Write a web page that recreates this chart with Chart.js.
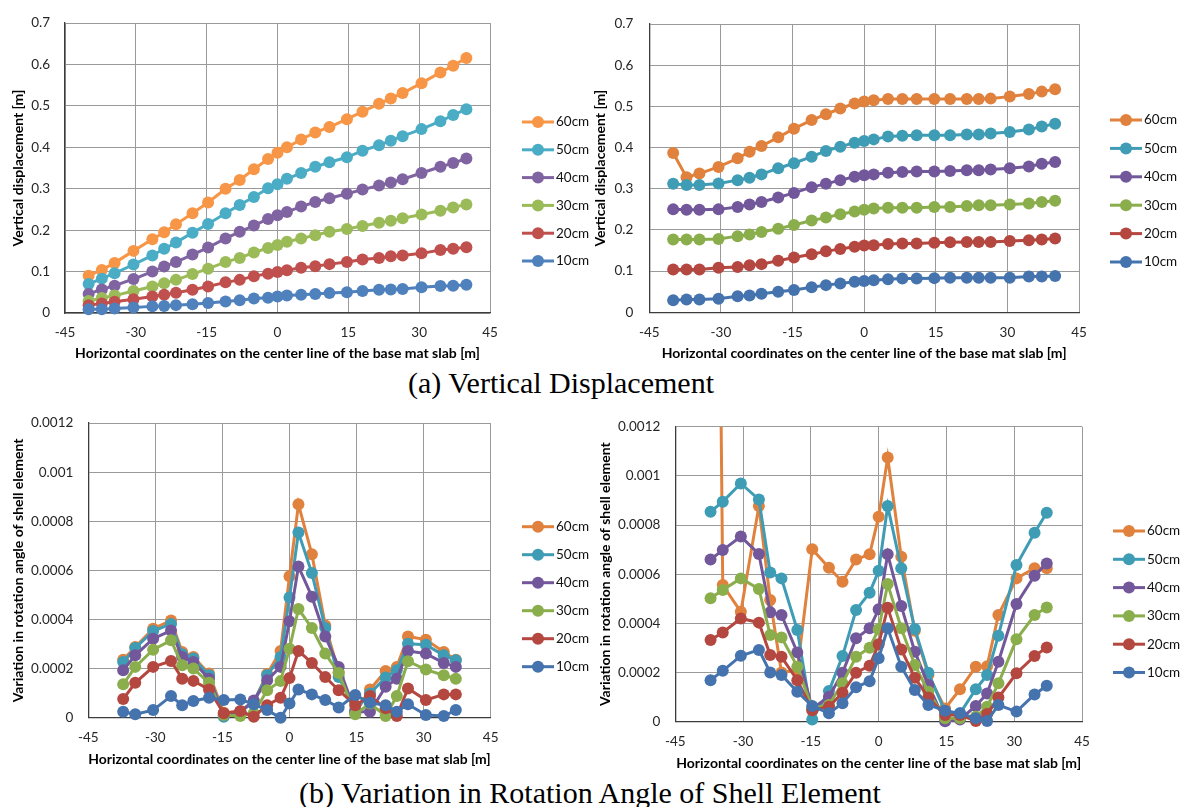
<!DOCTYPE html>
<html>
<head>
<meta charset="utf-8">
<script src="https://cdn.jsdelivr.net/npm/chart.js@4.4.1/dist/chart.umd.min.js"></script>
<style>
  body { margin:0; background:#fff; width:1188px; height:807px; position:relative; overflow:hidden; }
  canvas { position:absolute; }
  .cap { position:absolute; font-family:"Liberation Serif","Times New Roman",serif; font-size:30px; line-height:32px;
         color:#000; white-space:nowrap; transform:translateX(-50%); }
</style>
</head>
<body>
<canvas id="dispA" width="600" height="362" style="left:0;top:0"></canvas>
<canvas id="dispB" width="603" height="362" style="left:585px;top:0"></canvas>
<canvas id="rotA" width="600" height="368" style="left:0;top:400px"></canvas>
<canvas id="rotB" width="603" height="372" style="left:585px;top:400px"></canvas>
<div class="cap" style="left:561px;top:367px">(a) Vertical Displacement</div>
<div class="cap" style="left:590px;top:777px">(b) Variation in Rotation Angle of Shell Element</div>

<script>
/* slab thickness series, legend order (top -> bottom) */
const LABELS = ["60cm", "50cm", "40cm", "30cm", "20cm", "10cm"];

// x coordinates of the nodes [m]
const xDisp = [-40,-37.2,-34.5,-30.5,-26.5,-24,-21.5,-18,-14.7,-11,-8,-5,-2,0,2,5,8,11,14.7,18,21.5,24,26.5,30.5,34.5,37.2,40];
const xRot  = [-37.2,-34.5,-30.5,-26.5,-24,-21.5,-18,-14.7,-11,-8,-5,-2,0,2,5,8,11,14.7,18,21.5,24,26.5,30.5,34.5,37.2];

const xTicks = [-45, -30, -15, 0, 15, 30, 45];
const dispTicks = [0, 0.1, 0.2, 0.3, 0.4, 0.5, 0.6, 0.7];
const rotTicks = [0, 0.0002, 0.0004, 0.0006, 0.0008, 0.001, 0.0012];

// (a) vertical displacement [m], left chart
const dispA60 = [0.090,0.104,0.121,0.150,0.178,0.195,0.214,0.241,0.267,0.300,0.321,0.347,0.372,0.387,0.400,0.419,0.436,0.449,0.468,0.486,0.505,0.518,0.531,0.555,0.581,0.597,0.616];
const dispA50 = [0.070,0.083,0.096,0.117,0.139,0.155,0.170,0.194,0.215,0.241,0.261,0.280,0.301,0.311,0.324,0.338,0.353,0.364,0.376,0.392,0.405,0.416,0.427,0.444,0.463,0.478,0.492];
const dispA40 = [0.046,0.057,0.066,0.082,0.100,0.112,0.123,0.141,0.158,0.180,0.196,0.211,0.227,0.236,0.244,0.257,0.268,0.277,0.288,0.298,0.308,0.315,0.323,0.338,0.353,0.362,0.373];
const dispA30 = [0.029,0.036,0.042,0.053,0.064,0.072,0.080,0.094,0.107,0.123,0.133,0.146,0.157,0.164,0.172,0.180,0.188,0.196,0.203,0.210,0.218,0.223,0.229,0.238,0.247,0.255,0.262];
const dispA20 = [0.019,0.023,0.027,0.033,0.040,0.044,0.049,0.056,0.064,0.074,0.080,0.089,0.095,0.099,0.103,0.109,0.113,0.118,0.123,0.129,0.133,0.137,0.139,0.144,0.152,0.155,0.159];
const dispA10 = [0.009,0.009,0.011,0.013,0.016,0.017,0.019,0.021,0.024,0.028,0.031,0.035,0.037,0.040,0.042,0.044,0.046,0.048,0.050,0.053,0.056,0.057,0.058,0.062,0.065,0.066,0.068];

// (a) vertical displacement [m], right chart
const dispB60 = [0.387,0.328,0.337,0.353,0.374,0.390,0.404,0.425,0.446,0.467,0.481,0.495,0.507,0.512,0.515,0.518,0.518,0.518,0.518,0.518,0.518,0.518,0.519,0.524,0.530,0.536,0.542];
const dispB50 = [0.312,0.309,0.309,0.313,0.321,0.327,0.335,0.350,0.362,0.378,0.392,0.402,0.412,0.416,0.420,0.427,0.429,0.430,0.430,0.430,0.432,0.432,0.434,0.438,0.444,0.451,0.458];
const dispB40 = [0.250,0.249,0.249,0.250,0.256,0.262,0.268,0.279,0.290,0.304,0.312,0.321,0.329,0.333,0.335,0.339,0.341,0.342,0.342,0.343,0.345,0.345,0.347,0.350,0.354,0.361,0.365];
const dispB30 = [0.177,0.177,0.177,0.178,0.185,0.189,0.195,0.203,0.212,0.223,0.230,0.238,0.245,0.249,0.252,0.254,0.254,0.254,0.256,0.256,0.258,0.260,0.260,0.262,0.264,0.268,0.271];
const dispB20 = [0.104,0.104,0.104,0.108,0.110,0.114,0.117,0.125,0.133,0.141,0.148,0.154,0.159,0.162,0.163,0.166,0.167,0.167,0.169,0.170,0.171,0.171,0.171,0.173,0.175,0.177,0.179];
const dispB10 = [0.029,0.031,0.031,0.033,0.039,0.041,0.045,0.050,0.054,0.061,0.066,0.070,0.074,0.076,0.078,0.080,0.082,0.082,0.083,0.084,0.084,0.084,0.084,0.084,0.087,0.087,0.088];

// (b) rotation angle variation, left chart
const rotA60 = [0.000236,0.000288,0.000362,0.000396,0.000268,0.000247,0.000180,0.000020,0.000025,0.000065,0.000178,0.000272,0.000576,0.000869,0.000666,0.000376,0.000185,0.000020,0.000115,0.000190,0.000207,0.000331,0.000318,0.000268,0.000236];
const rotA50 = [0.000227,0.000284,0.000353,0.000382,0.000258,0.000241,0.000173,0.000004,0.000024,0.000065,0.000173,0.000247,0.000490,0.000754,0.000589,0.000365,0.000166,0.000030,0.000099,0.000164,0.000193,0.000301,0.000297,0.000254,0.000234];
const rotA40 = [0.000193,0.000254,0.000322,0.000355,0.000247,0.000227,0.000159,0.000011,0.000024,0.000070,0.000153,0.000207,0.000393,0.000616,0.000493,0.000331,0.000207,0.000024,0.000024,0.000126,0.000159,0.000272,0.000261,0.000223,0.000207];
const rotA30 = [0.000136,0.000207,0.000277,0.000315,0.000214,0.000200,0.000142,0.000011,0.000007,0.000018,0.000112,0.000149,0.000281,0.000443,0.000365,0.000261,0.000182,0.000014,0.000058,0.000007,0.000088,0.000230,0.000196,0.000173,0.000159];
const rotA20 = [0.000076,0.000142,0.000207,0.000231,0.000159,0.000150,0.000115,0.000018,0.000027,0.000004,0.000051,0.000081,0.000162,0.000272,0.000223,0.000166,0.000112,0.000051,0.000088,0.000038,0.000007,0.000119,0.000072,0.000095,0.000095];
const rotA10 = [0.000024,0.000014,0.000031,0.000088,0.000051,0.000068,0.000081,0.000072,0.000074,0.000055,0.000031,0.000000,0.000058,0.000115,0.000095,0.000072,0.000042,0.000092,0.000061,0.000051,0.000024,0.000055,0.000011,0.000007,0.000031];

// (b) rotation angle variation, right chart (first 60cm value runs off the top)
const rotB60 = [0.005500,0.000556,0.000447,0.000877,0.000495,0.000200,0.000210,0.000702,0.000626,0.000569,0.000660,0.000681,0.000834,0.001075,0.000671,0.000370,0.000190,0.000054,0.000132,0.000224,0.000226,0.000434,0.000583,0.000624,0.000624];
const rotB50 = [0.000854,0.000895,0.000969,0.000904,0.000607,0.000583,0.000373,0.000009,0.000125,0.000267,0.000454,0.000525,0.000614,0.000877,0.000624,0.000377,0.000199,0.000041,0.000034,0.000132,0.000190,0.000350,0.000637,0.000769,0.000850];
const rotB40 = [0.000660,0.000698,0.000753,0.000682,0.000445,0.000434,0.000282,0.000054,0.000102,0.000199,0.000339,0.000380,0.000457,0.000681,0.000471,0.000285,0.000149,0.000002,0.000009,0.000064,0.000115,0.000244,0.000479,0.000594,0.000644];
const rotB30 = [0.000502,0.000536,0.000583,0.000540,0.000353,0.000343,0.000224,0.000054,0.000068,0.000156,0.000264,0.000301,0.000376,0.000560,0.000380,0.000231,0.000122,0.000014,0.000014,0.000020,0.000061,0.000156,0.000335,0.000434,0.000465];
const rotB20 = [0.000332,0.000363,0.000420,0.000403,0.000271,0.000264,0.000169,0.000047,0.000061,0.000118,0.000199,0.000228,0.000315,0.000464,0.000294,0.000179,0.000098,0.000027,0.000027,0.000003,0.000031,0.000098,0.000197,0.000267,0.000302];
const rotB10 = [0.000169,0.000207,0.000268,0.000292,0.000200,0.000190,0.000122,0.000064,0.000034,0.000075,0.000140,0.000165,0.000258,0.000380,0.000224,0.000129,0.000068,0.000045,0.000034,0.000014,0.000003,0.000068,0.000041,0.000111,0.000146];

const LIGHT = ["#F79646", "#4BACC6", "#8064A2", "#9BBB59", "#C0504D", "#4F81BD"];
const DARK  = ["#E0823D", "#3F9CB5", "#72589B", "#8BAE4C", "#B4473F", "#4573AE"];

const FONT = "Lato";
const XTITLE = "Horizontal coordinates on the center line of the base mat slab [m]";

const fmt = v => String(parseFloat(Number(v).toPrecision(4)));

// excel style legend: short line + marker, drawn to the right of the plot
const sideLegend = {
  id: "sideLegend",
  afterDraw(chart, args, o) {
    const ctx = chart.ctx;
    ctx.save();
    chart.data.datasets.forEach((ds, i) => {
      const y = o.y + i * o.dy;
      ctx.strokeStyle = ds.borderColor;
      ctx.lineWidth = 3;
      ctx.beginPath(); ctx.moveTo(o.x, y); ctx.lineTo(o.x + 32, y); ctx.stroke();
      ctx.fillStyle = ds.borderColor;
      ctx.beginPath(); ctx.arc(o.x + 16, y, 6, 0, Math.PI * 2); ctx.fill();
      ctx.fillStyle = "#111";
      ctx.font = "13.5px " + FONT;
      ctx.textBaseline = "middle";
      ctx.fillText(ds.label, o.x + 34, y);
    });
    ctx.restore();
  }
};

function makeChart(id, xs, series, colors, g) {
  const datasets = series.map((ys, i) => ({
    label: LABELS[i],
    data: xs.map((x, k) => ({x: x, y: ys[k]})),
    borderColor: colors[i],
    backgroundColor: colors[i],
    borderWidth: 3,
    pointRadius: 6,
    pointBorderWidth: 0,
    pointBackgroundColor: colors[i],
    order: series.length - 1 - i,   // 10cm drawn on top
    clip: {left: 8, right: 8, bottom: 8, top: 0}
  }));
  const tickFont = {family: FONT, size: 13.5};
  const titleFont = {family: FONT, size: 14, weight: "bold"};
  return new Chart(document.getElementById(id), {
    type: "line",
    data: {datasets},
    plugins: [sideLegend],
    options: {
      responsive: false,
      animation: false,
      layout: {padding: {left: 0, top: g.top, right: g.right, bottom: 0}},
      plugins: {
        legend: {display: false},
        tooltip: {enabled: false},
        sideLegend: {x: g.lx, y: g.ly, dy: g.ldy}
      },
      scales: {
        x: {
          type: "linear", min: xTicks[0], max: xTicks[xTicks.length - 1],
          afterBuildTicks: s => { s.ticks = xTicks.map(v => ({value: v})); },
          ticks: {padding: 12, color: "#262626", font: tickFont, maxRotation: 0, callback: fmt},
          grid: {color: "#9a9a9a", lineWidth: 1, drawTicks: false},
          border: {color: "#3c3c3c", width: 1.3},
          title: {display: true, text: XTITLE, color: "#000", font: titleFont, padding: {top: 0, bottom: 0}},
          afterFit: s => { s.height = g.xh; }
        },
        y: {
          type: "linear", min: g.yt[0], max: g.yt[g.yt.length - 1],
          afterBuildTicks: s => { s.ticks = g.yt.map(v => ({value: v})); },
          ticks: {padding: g.ypad, color: "#262626", font: tickFont, callback: fmt},
          grid: {color: "#9a9a9a", lineWidth: 1, drawTicks: false},
          border: {color: "#3c3c3c", width: 1.3},
          title: {display: true, text: g.ytitle, color: "#000", font: titleFont, padding: {top: g.ytpad, bottom: 0}},
          afterFit: s => { s.width = g.yw; }
        }
      }
    }
  });
}

makeChart("dispA", xDisp, [dispA60, dispA50, dispA40, dispA30, dispA20, dispA10], LIGHT,
  {top: 16, right: 110, xh: 49, yw: 65, ypad: 15, ytpad: 10, yt: dispTicks,
   ytitle: "Vertical displacement [m]", lx: 522, ly: 122, ldy: 27.8});

makeChart("dispB", xDisp, [dispB60, dispB50, dispB40, dispB30, dispB20, dispB10], DARK,
  {top: 16.7, right: 109, xh: 49.7, yw: 64.3, ypad: 16, ytpad: 7, yt: dispTicks,
   ytitle: "Vertical displacement [m]", lx: 525, ly: 120, ldy: 28.4});

makeChart("rotA", xRot, [rotA60, rotA50, rotA40, rotA30, rotA20, rotA10], DARK,
  {top: 21.7, right: 109.3, xh: 50.3, yw: 88.3, ypad: 15, ytpad: 10, yt: rotTicks,
   ytitle: "Variation in rotation angle of shell element", lx: 522, ly: 126.7, ldy: 28});

makeChart("rotB", xRot, [rotB60, rotB50, rotB40, rotB30, rotB20, rotB10], DARK,
  {top: 26.7, right: 106, xh: 50.3, yw: 90.3, ypad: 15, ytpad: 12, yt: rotTicks,
   ytitle: "Variation in rotation angle of shell element", lx: 528, ly: 131, ldy: 28.3});
</script>
</body>
</html>
